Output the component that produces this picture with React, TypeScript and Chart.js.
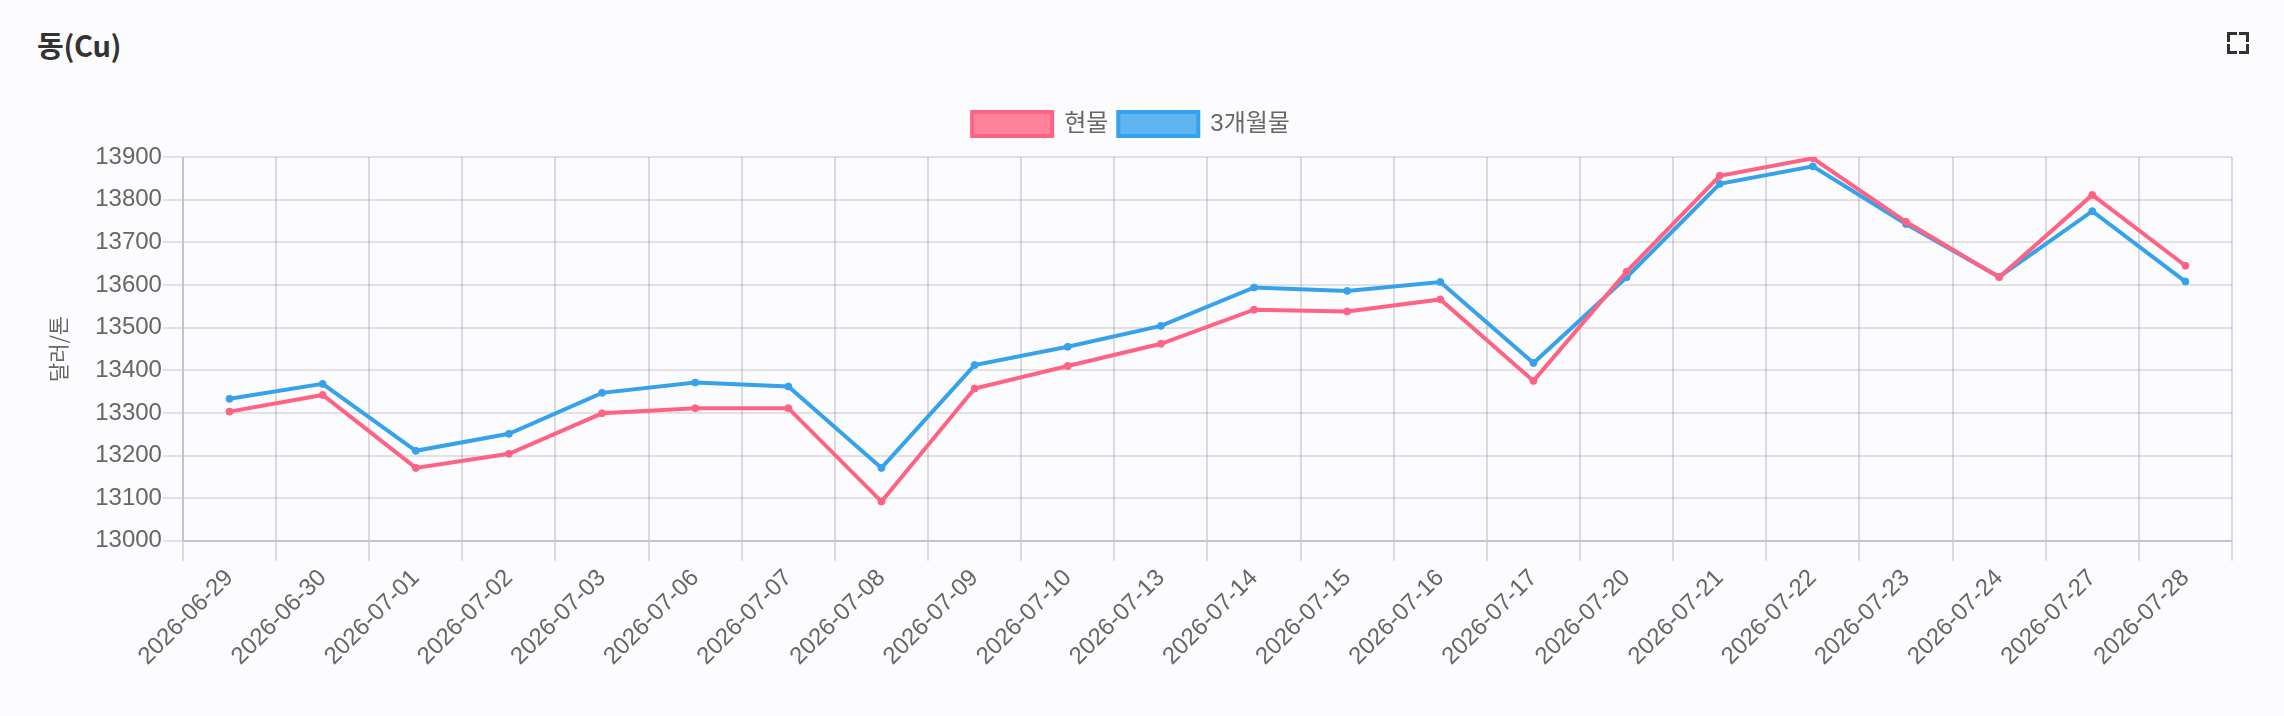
import React, { useEffect, useRef } from 'react';
import { Chart, registerables } from 'chart.js';

Chart.register(...registerables);

const categories = [
  '2026-06-29', '2026-06-30', '2026-07-01', '2026-07-02', '2026-07-03', '2026-07-06',
  '2026-07-07', '2026-07-08', '2026-07-09', '2026-07-10', '2026-07-13', '2026-07-14',
  '2026-07-15', '2026-07-16', '2026-07-17', '2026-07-20', '2026-07-21', '2026-07-22',
  '2026-07-23', '2026-07-24', '2026-07-27', '2026-07-28',
];

const spotValues = [
  13303, 13342, 13171, 13204, 13299, 13311, 13311, 13092, 13357, 13410, 13462,
  13542, 13538, 13566, 13375, 13631, 13856, 13897, 13748, 13618, 13811, 13645,
];

const threeMonthValues = [
  13333, 13368, 13211, 13251, 13347, 13371, 13362, 13171, 13412, 13455, 13504,
  13594, 13586, 13607, 13417, 13618, 13837, 13878, 13743, 13619, 13773, 13608,
];

const yTicks = [13000, 13100, 13200, 13300, 13400, 13500, 13600, 13700, 13800, 13900];

const seriesNames = ['현물', '3개월물'];
const chartTitle = '동(Cu)';
const yAxisTitle = '달러/톤';

const legendMargin = {
  id: 'legendMargin',
  beforeInit(chart: any) {
    const legend = chart.legend;
    if (!legend) return;
    const origFit = legend.fit;
    legend.fit = function fit() {
      origFit.call(legend);
      this.height += 11;
    };
  },
};

function Corner({ style }: { style: React.CSSProperties }) {
  return <div style={{ position: 'absolute', width: 7, height: 7, ...style }} />;
}

export default function App() {
  const ref = useRef<HTMLCanvasElement>(null);

  useEffect(() => {
    document.body.style.margin = '0';
    const tickFont = { family: 'Arial, "Liberation Sans", sans-serif', size: 24 };
    const chart = new Chart(ref.current as HTMLCanvasElement, {
      type: 'line',
      data: {
        labels: categories,
        datasets: [
          {
            label: seriesNames[0],
            data: spotValues,
            borderColor: 'rgb(255, 99, 132)',
            backgroundColor: 'rgba(255, 99, 132, 0.8)',
            pointBackgroundColor: 'rgb(255, 99, 132)',
            pointBorderColor: 'rgb(255, 99, 132)',
            borderWidth: 4,
            pointRadius: 3.5,
            pointBorderWidth: 1,
            tension: 0,
            fill: false,
          },
          {
            label: seriesNames[1],
            data: threeMonthValues,
            borderColor: 'rgb(54, 162, 235)',
            backgroundColor: 'rgba(54, 162, 235, 0.8)',
            pointBackgroundColor: 'rgb(54, 162, 235)',
            pointBorderColor: 'rgb(54, 162, 235)',
            borderWidth: 4,
            pointRadius: 3.5,
            pointBorderWidth: 1,
            tension: 0,
            fill: false,
          },
        ],
      },
      options: {
        responsive: false,
        animation: false,
        layout: { padding: { top: 102, left: 30, right: 52, bottom: 42 } },
        plugins: {
          legend: {
            display: true,
            position: 'top',
            labels: {
              boxWidth: 80,
              boxHeight: 24,
              padding: 10,
              color: '#666',
              font: { family: 'Arial, "Noto Sans CJK KR", sans-serif', size: 24 },
            },
          },
          tooltip: { enabled: false },
        },
        scales: {
          x: {
            type: 'category',
            offset: true,
            grid: {
              offset: true,
              color: (ctx: any) =>
                ctx.index === categories.length ? 'rgba(0,0,0,0)' : 'rgba(0,0,0,0.13)',
              lineWidth: 2,
              tickLength: 20,
              drawTicks: true,
            },
            border: { display: true, color: 'rgba(0,0,0,0.12)', width: 2 },
            ticks: {
              color: '#666',
              font: tickFont,
              minRotation: 45,
              maxRotation: 45,
              autoSkip: false,
              padding: 3,
            },
          },
          y: {
            min: yTicks[0],
            max: yTicks[yTicks.length - 1],
            grid: {
              color: 'rgba(0,0,0,0.1)',
              lineWidth: 2,
              tickLength: 20,
              drawTicks: true,
            },
            border: { display: true, color: 'rgba(0,0,0,0.1)', width: 2 },
            ticks: {
              stepSize: 100,
              color: '#666',
              font: tickFont,
              padding: 1,
              callback: (v: any) => String(v),
            },
            afterBuildTicks: (scale: any) => {
              scale.ticks = yTicks.map((v) => ({ value: v }));
            },
            title: {
              display: true,
              text: yAxisTitle,
              color: '#666',
              font: { family: '"Noto Sans CJK KR", sans-serif', size: 21 },
              padding: { top: 15, bottom: 24 },
            },
          },
        },
      },
      plugins: [legendMargin],
    } as any);
    return () => chart.destroy();
  }, []);

  const c = '#333';
  return (
    <div
      style={{
        position: 'relative',
        width: 2284,
        height: 716,
        background: '#fcfcfe',
        overflow: 'hidden',
      }}
    >
      <div
        style={{
          position: 'absolute',
          left: 37,
          top: 30,
          fontFamily: '"Noto Sans CJK KR", sans-serif',
          fontWeight: 700,
          fontSize: 29,
          lineHeight: '29px',
          color: '#333',
          whiteSpace: 'nowrap',
          letterSpacing: '-0.3px',
        }}
      >
        {chartTitle}
      </div>
      <div style={{ position: 'absolute', left: 2227, top: 32, width: 22, height: 22 }}>
        <Corner style={{ left: 0, top: 0, borderLeft: `3px solid ${c}`, borderTop: `3px solid ${c}` }} />
        <Corner style={{ right: 0, top: 0, borderRight: `3px solid ${c}`, borderTop: `3px solid ${c}` }} />
        <Corner style={{ left: 0, bottom: 0, borderLeft: `3px solid ${c}`, borderBottom: `3px solid ${c}` }} />
        <Corner style={{ right: 0, bottom: 0, borderRight: `3px solid ${c}`, borderBottom: `3px solid ${c}` }} />
      </div>
      <canvas
        ref={ref}
        width={2284}
        height={716}
        style={{ position: 'absolute', left: 0, top: 0, width: 2284, height: 716 }}
      />
    </div>
  );
}
